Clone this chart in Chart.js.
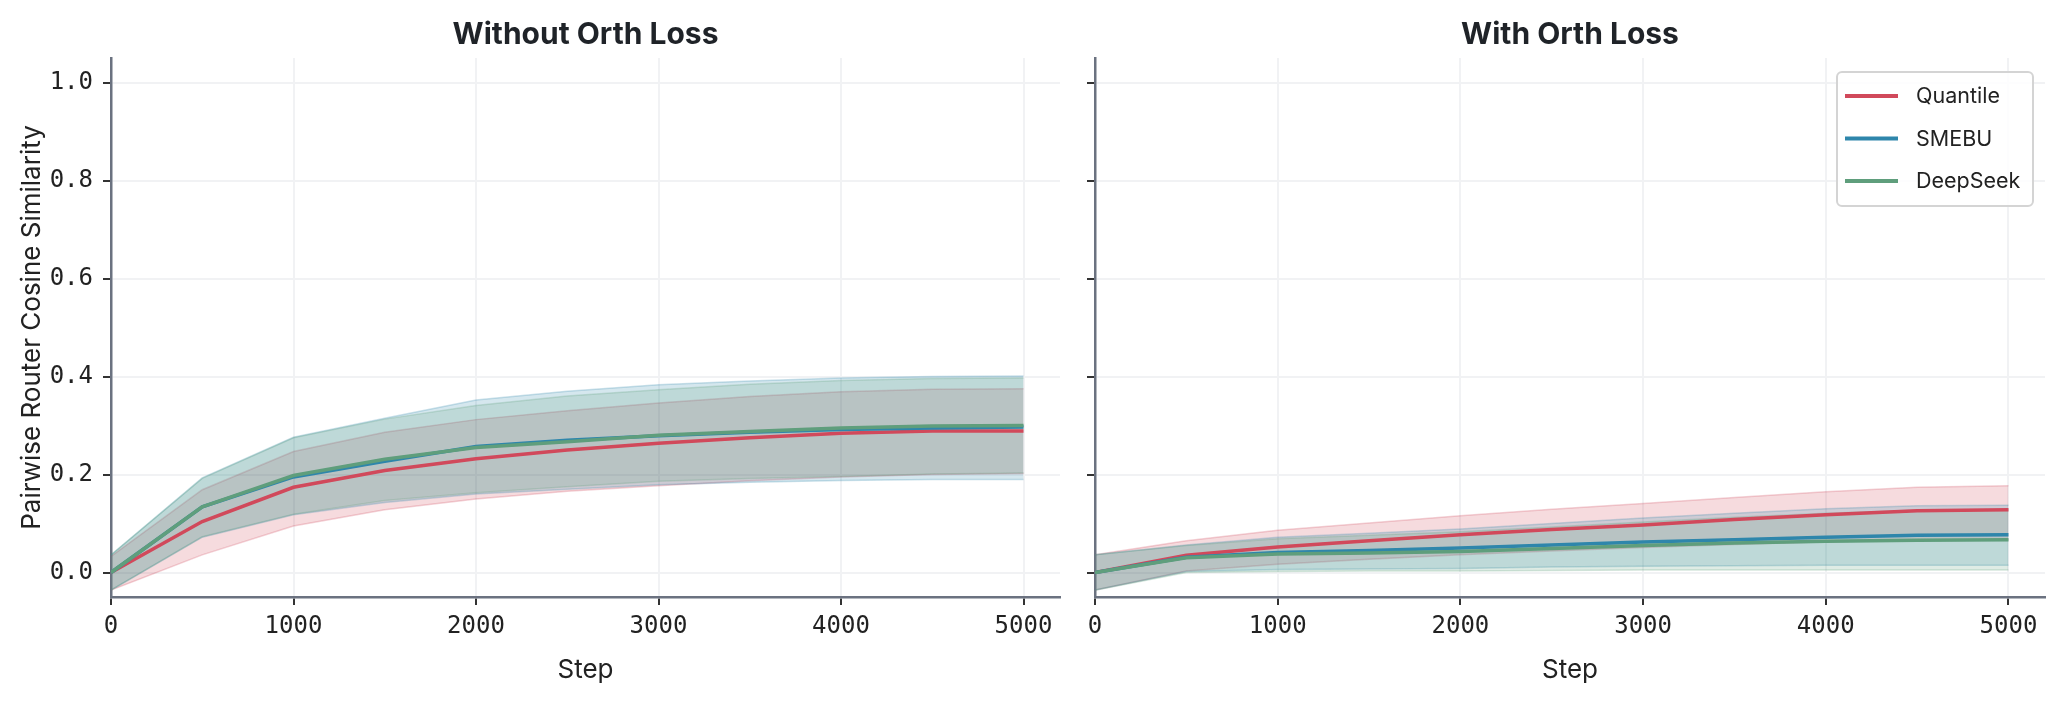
<!DOCTYPE html>
<html>
<head>
<meta charset="utf-8">
<script src="https://cdn.jsdelivr.net/npm/chart.js@4.4.1/dist/chart.umd.min.js"></script>
<style>
  html, body { margin: 0; padding: 0; background: #fff; }
  #wrap { position: relative; width: 2061px; height: 704px; }
  .panel { position: absolute; top: 0; height: 704px; }
</style>
</head>
<body>
<div id="wrap">
  <div class="panel" style="left:0;width:1068px"><canvas id="noOrth"></canvas></div>
  <div class="panel" style="left:1068px;width:993px"><canvas id="withOrth"></canvas></div>
</div>
<script>
const steps = [0, 500, 1000, 1500, 2000, 2500, 3000, 3500, 4000, 4500, 5000];
const xTicks = [0, 1000, 2000, 3000, 4000, 5000];
const yTicks = [0, 0.2, 0.4, 0.6, 0.8, 1.0];
const methods = ['Quantile', 'SMEBU', 'DeepSeek'];
const colors = ['#d1495b', '#2e86ab', '#5f9e7c'];

// without orth loss: mean and band edges
const quantNo     = [0, 0.104, 0.174, 0.208, 0.232, 0.250, 0.264, 0.275, 0.284, 0.289, 0.289];
const quantNoHi   = [0.033, 0.169, 0.247, 0.286, 0.312, 0.330, 0.346, 0.359, 0.369, 0.374, 0.375];
const quantNoLo   = [-0.036, 0.036, 0.095, 0.128, 0.150, 0.166, 0.177, 0.187, 0.195, 0.200, 0.202];
const smebuNo     = [0, 0.134, 0.195, 0.227, 0.257, 0.270, 0.279, 0.286, 0.292, 0.295, 0.297];
const smebuNoHi   = [0.036, 0.193, 0.276, 0.315, 0.352, 0.370, 0.383, 0.391, 0.397, 0.400, 0.401];
const smebuNoLo   = [-0.036, 0.072, 0.118, 0.143, 0.160, 0.170, 0.179, 0.184, 0.188, 0.190, 0.190];
const deepNo      = [0, 0.134, 0.198, 0.231, 0.255, 0.267, 0.280, 0.288, 0.295, 0.299, 0.300];
const deepNoHi    = [0.036, 0.192, 0.275, 0.313, 0.341, 0.360, 0.373, 0.384, 0.392, 0.396, 0.397];
const deepNoLo    = [-0.036, 0.073, 0.119, 0.147, 0.163, 0.175, 0.186, 0.192, 0.196, 0.201, 0.203];

// with orth loss
const quantOrth   = [0, 0.035, 0.052, 0.065, 0.077, 0.088, 0.097, 0.108, 0.118, 0.126, 0.128];
const quantOrthHi = [0.036, 0.065, 0.086, 0.101, 0.116, 0.129, 0.141, 0.153, 0.165, 0.174, 0.177];
const quantOrthLo = [-0.036, 0.003, 0.017, 0.027, 0.036, 0.044, 0.051, 0.057, 0.063, 0.066, 0.067];
const smebuOrth   = [0, 0.031, 0.041, 0.045, 0.050, 0.056, 0.062, 0.067, 0.072, 0.076, 0.077];
const smebuOrthHi = [0.036, 0.056, 0.072, 0.080, 0.089, 0.100, 0.111, 0.121, 0.130, 0.136, 0.137];
const smebuOrthLo = [-0.036, 0.002, 0.006, 0.007, 0.008, 0.011, 0.013, 0.014, 0.015, 0.015, 0.015];
const deepOrth    = [0, 0.030, 0.038, 0.040, 0.043, 0.049, 0.055, 0.060, 0.064, 0.066, 0.067];
const deepOrthHi  = [0.036, 0.055, 0.069, 0.076, 0.083, 0.093, 0.103, 0.113, 0.121, 0.127, 0.128];
const deepOrthLo  = [-0.036, 0.000, 0.002, 0.003, 0.003, 0.004, 0.005, 0.005, 0.005, 0.005, 0.005];

function rgba(hex, a) {
  const n = parseInt(hex.slice(1), 16);
  return `rgba(${n >> 16},${(n >> 8) & 255},${n & 255},${a})`;
}
const pts = vals => steps.map((s, i) => ({ x: s, y: vals[i] }));

// Chart.js paints the last dataset first, so: lines (DeepSeek on top) then
// bands, with the Quantile band at the very end so it is painted first.
function makeDatasets(means, his, los) {
  const ds = [];
  const order = [2, 1, 0];
  order.forEach(k => ds.push({
    label: methods[k], data: pts(means[k]), borderColor: colors[k], borderWidth: 3.5,
    pointRadius: 0, fill: false, tension: 0
  }));
  order.forEach(k => {
    ds.push({ label: methods[k] + ' hi', data: pts(his[k]), borderColor: rgba(colors[k], 0.25),
      borderWidth: 1.5, pointRadius: 0, fill: false });
    ds.push({ label: methods[k] + ' lo', data: pts(los[k]), borderColor: rgba(colors[k], 0.25),
      borderWidth: 1.5, pointRadius: 0, fill: '-1', backgroundColor: rgba(colors[k], 0.2) });
  });
  return ds;
}

const panelTitle = {
  id: 'panelTitle',
  afterDraw(chart, args, opts) {
    const { ctx, chartArea } = chart;
    ctx.save();
    ctx.font = 'bold 30px Inter';
    ctx.fillStyle = '#1f2328';
    ctx.textAlign = 'center';
    ctx.textBaseline = 'middle';
    ctx.fillText(opts.text, (chartArea.left + chartArea.right) / 2, 35);
    ctx.restore();
  }
};

const boxLegend = {
  id: 'boxLegend',
  afterDraw(chart, args, opts) {
    if (!opts.show) return;
    const { ctx, chartArea } = chart;
    const right = chartArea.right - 12, top = chartArea.top + 14;
    const w = 196, h = 134;
    const left = right - w;
    ctx.save();
    ctx.beginPath();
    ctx.roundRect(left, top, w, h, 5);
    ctx.fillStyle = 'rgba(255,255,255,0.85)';
    ctx.fill();
    ctx.strokeStyle = '#d4d4d4';
    ctx.lineWidth = 2;
    ctx.stroke();
    ctx.font = '21.5px Inter';
    ctx.fillStyle = '#222';
    ctx.textBaseline = 'middle';
    methods.forEach((m, k) => {
      const y = top + 24 + k * 42.5;
      ctx.strokeStyle = colors[k];
      ctx.lineWidth = 4;
      ctx.beginPath();
      ctx.moveTo(left + 8, y);
      ctx.lineTo(left + 61, y);
      ctx.stroke();
      ctx.fillText(m, left + 79, y + 1);
    });
    ctx.restore();
  }
};

const tickFont = { family: 'DejaVu Sans Mono', size: 24 };
const labelFont = { family: 'Inter', size: 26 };

function makeChart(id, title, datasets, isLeft) {
  return new Chart(document.getElementById(id), {
    type: 'line',
    data: { datasets },
    plugins: [panelTitle, boxLegend],
    options: {
      responsive: true,
      maintainAspectRatio: false,
      animation: false,
      devicePixelRatio: 1,
      events: [],
      layout: { padding: { top: 58, right: isLeft ? 8 : 16, left: 0, bottom: 0 } },
      plugins: {
        legend: { display: false },
        tooltip: { enabled: false },
        panelTitle: { text: title },
        boxLegend: { show: !isLeft }
      },
      scales: {
        x: {
          type: 'linear', min: 0, max: 5200,
          afterBuildTicks: s => { s.ticks = xTicks.map(v => ({ value: v })); },
          afterFit: s => { s.height = 107; },
          ticks: { font: tickFont, color: '#222', padding: 7, maxRotation: 0, autoSkip: false,
            callback: v => String(v) },
          grid: { color: '#f1f2f4', lineWidth: 2, tickColor: '#333', tickLength: 8, tickWidth: 2 },
          border: { color: '#6b7280', width: 2.5 },
          title: { display: true, text: 'Step', font: labelFont, color: '#222',
            padding: { top: 0, bottom: 18 } }
        },
        y: {
          min: -0.05, max: 1.05,
          afterBuildTicks: s => { s.ticks = yTicks.map(v => ({ value: v })); },
          afterFit: s => { s.width = isLeft ? 111 : 27; },
          ticks: { font: tickFont, color: '#222', padding: 10, autoSkip: false,
            callback: v => isLeft ? v.toFixed(1) : '' },
          grid: { color: '#f1f2f4', lineWidth: 2, tickColor: '#333', tickLength: 8, tickWidth: 2 },
          border: { color: '#6b7280', width: 2.5 },
          title: { display: isLeft, text: 'Pairwise Router Cosine Similarity', font: labelFont,
            color: '#222', padding: { top: 17, bottom: 0 } }
        }
      }
    }
  });
}

makeChart('noOrth', 'Without Orth Loss',
  makeDatasets([quantNo, smebuNo, deepNo], [quantNoHi, smebuNoHi, deepNoHi], [quantNoLo, smebuNoLo, deepNoLo]), true);
makeChart('withOrth', 'With Orth Loss',
  makeDatasets([quantOrth, smebuOrth, deepOrth], [quantOrthHi, smebuOrthHi, deepOrthHi], [quantOrthLo, smebuOrthLo, deepOrthLo]), false);
</script>
</body>
</html>
